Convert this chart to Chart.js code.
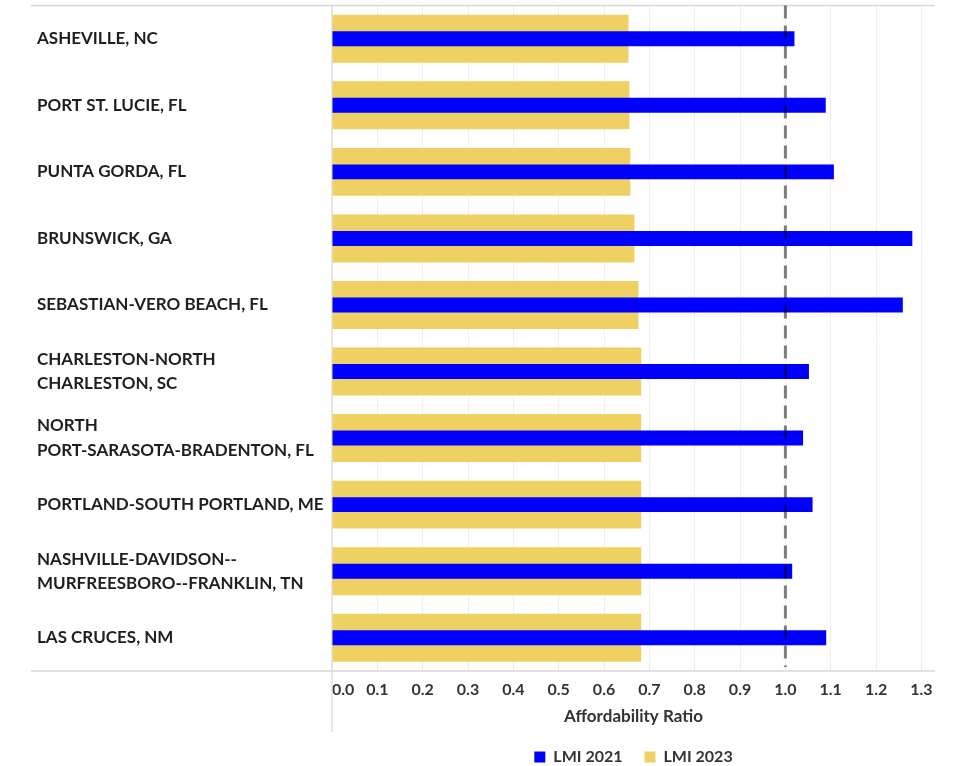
<!DOCTYPE html>
<html>
<head>
<meta charset="utf-8">
<script src="https://cdn.jsdelivr.net/npm/chart.js@4/dist/chart.umd.min.js"></script>
<style>
  html, body { margin: 0; padding: 0; background: #ffffff; }
  #wrap { width: 958px; height: 766px; position: relative; }
</style>
</head>
<body>
<div id="wrap"><canvas id="chart"></canvas></div>
<script>
// Metro areas, top to bottom
const CATEGORIES = [
  'ASHEVILLE, NC',
  'PORT ST. LUCIE, FL',
  'PUNTA GORDA, FL',
  'BRUNSWICK, GA',
  'SEBASTIAN-VERO BEACH, FL',
  ['CHARLESTON-NORTH', 'CHARLESTON, SC'],
  ['NORTH', 'PORT-SARASOTA-BRADENTON, FL'],
  'PORTLAND-SOUTH PORTLAND, ME',
  ['NASHVILLE-DAVIDSON--', 'MURFREESBORO--FRANKLIN, TN'],
  'LAS CRUCES, NM'
];

// Affordability ratio per metro
const LMI_2021 = [1.020, 1.089, 1.107, 1.280, 1.259, 1.052, 1.039, 1.060, 1.015, 1.090];
const LMI_2023 = [0.654, 0.656, 0.658, 0.667, 0.676, 0.682, 0.682, 0.682, 0.682, 0.682];

const SERIES_LABELS = ['LMI 2021', 'LMI 2023'];
const AXIS_TITLE = 'Affordability Ratio';

// Value axis: labelled ticks, plus the unlabelled end of the axis
const X_MIN = 0;
const X_MAX = 1.33;
const X_TICKS = [0, 0.1, 0.2, 0.3, 0.4, 0.5, 0.6, 0.7, 0.8, 0.9, 1.0, 1.1, 1.2, 1.3];
const REFERENCE_RATIO = 1.0;

const FONT = 'Lato, "Open Sans", "DejaVu Sans", sans-serif';

// Row separators, zero line and the dashed reference line
const framePlugin = {
  id: 'frame',
  beforeDatasetsDraw(chart) {
    const { ctx, chartArea: a } = chart;
    ctx.save();
    ctx.strokeStyle = '#d6d6d6';
    ctx.lineWidth = 1.5;
    ctx.beginPath();
    ctx.moveTo(31, a.top);
    ctx.lineTo(a.right, a.top);
    ctx.moveTo(31, a.bottom);
    ctx.lineTo(a.right, a.bottom);
    ctx.stroke();
    ctx.strokeStyle = '#dcdcdc';
    ctx.lineWidth = 1.3;
    ctx.beginPath();
    ctx.moveTo(a.left, a.top);
    ctx.lineTo(a.left, a.bottom + 61);
    ctx.stroke();
    ctx.restore();
  },
  afterDatasetsDraw(chart) {
    const { ctx, chartArea: a, scales } = chart;
    const x = scales.x.getPixelForValue(REFERENCE_RATIO);
    ctx.save();
    ctx.strokeStyle = 'rgba(0,0,0,0.5)';
    ctx.lineWidth = 3;
    ctx.setLineDash([13, 7]);
    ctx.beginPath();
    ctx.moveTo(x, a.top);
    ctx.lineTo(x, a.bottom - 4);
    ctx.stroke();
    ctx.restore();
  }
};

new Chart(document.getElementById('chart'), {
  type: 'bar',
  data: {
    labels: CATEGORIES,
    datasets: [
      {
        label: SERIES_LABELS[0],
        data: LMI_2021,
        backgroundColor: '#0000ff',
        barPercentage: 0.225,
        categoryPercentage: 1,
        grouped: false,
        order: 0
      },
      {
        label: SERIES_LABELS[1],
        data: LMI_2023,
        backgroundColor: '#efd062',
        barPercentage: 0.72,
        categoryPercentage: 1,
        grouped: false,
        order: 1
      }
    ]
  },
  options: {
    indexAxis: 'y',
    responsive: true,
    maintainAspectRatio: false,
    animation: false,
    layout: { padding: { left: 37, right: 23, top: 5.5, bottom: -9 } },
    scales: {
      x: {
        type: 'linear',
        min: X_MIN,
        max: X_MAX,
        afterBuildTicks: (scale) => {
          scale.ticks = X_TICKS.concat([X_MAX]).map((v) => ({ value: v }));
        },
        grid: {
          drawTicks: false,
          color: (c) => (c.tick && c.tick.value === X_MAX) ? 'rgba(0,0,0,0)' : '#efefef',
          lineWidth: 1
        },
        border: { display: false },
        ticks: {
          autoSkip: false,
          maxRotation: 0,
          align: 'inner',
          padding: 9,
          color: '#333333',
          font: { family: FONT, size: 16, weight: 'bold' },
          callback: (v) => (v === X_MAX) ? '' : Number(v).toFixed(1)
        },
        title: {
          display: true,
          text: AXIS_TITLE,
          color: '#333333',
          font: { family: FONT, size: 17, weight: 'bold' },
          padding: { top: 4, bottom: 0 }
        },
        afterFit: (scale) => { scale.height = 56; }
      },
      y: {
        type: 'category',
        grid: { display: false },
        border: { display: false },
        ticks: {
          autoSkip: false,
          crossAlign: 'far',
          padding: 0,
          color: '#1f1f1f',
          font: { family: FONT, size: 17, weight: 'bold', lineHeight: 1.42 }
        },
        afterFit: (scale) => {
          scale.width = 295;
          scale.paddingTop = 0;
          scale.paddingBottom = 0;
        }
      }
    },
    plugins: {
      legend: {
        position: 'bottom',
        fullSize: false,
        align: 'center',
        labels: {
          boxWidth: 11,
          boxHeight: 11,
          padding: 22,
          color: '#333333',
          font: { family: FONT, size: 16, weight: 'bold' }
        }
      },
      tooltip: { enabled: false }
    }
  },
  plugins: [framePlugin]
});
</script>
</body>
</html>
